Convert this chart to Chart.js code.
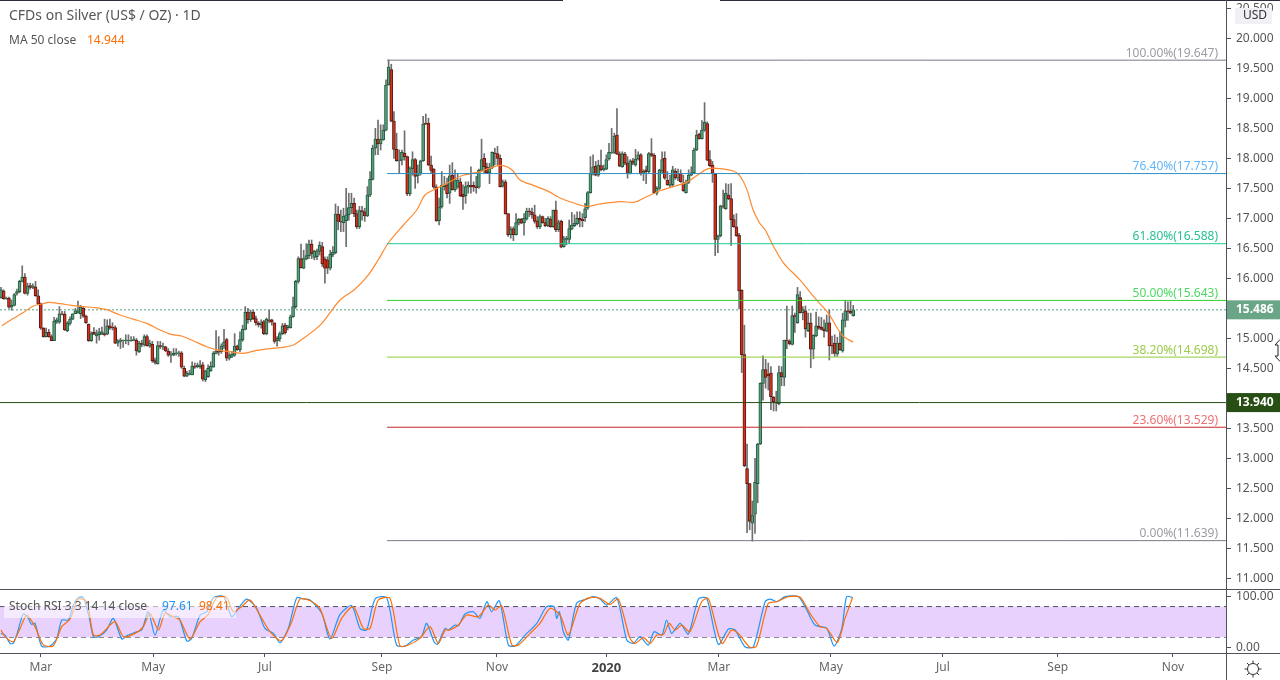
<!DOCTYPE html>
<html><head><meta charset="utf-8">
<script src="https://cdn.jsdelivr.net/npm/chart.js@4/dist/chart.umd.js"></script>
<style>
html,body{margin:0;padding:0;background:#fff;width:1280px;height:680px;overflow:hidden}
canvas{position:absolute;left:0;display:block}
.r{position:absolute;background:#50535e}
svg{position:absolute}
</style></head><body>
<canvas id="main" width="1280" height="589" style="top:0"></canvas>
<canvas id="osc" width="1280" height="90" style="top:590px"></canvas>
<div class="r" style="left:0;top:0;width:563px;height:1px;background:#2a2e39"></div>
<div class="r" style="left:720px;top:0;width:560px;height:1px;background:#2a2e39"></div>
<div class="r" style="left:0;top:589px;width:1280px;height:1px"></div>
<div class="r" style="left:0;top:653px;width:1280px;height:1px"></div>
<div class="r" style="left:1226px;top:0;width:1px;height:680px"></div>
<svg style="left:1243px;top:659px" width="20" height="20" viewBox="0 0 20 20" fill="none" stroke="#333" stroke-width="1">
<circle cx="10" cy="10" r="5.5"/><path d="M10 1.5v3M10 15.5v3M1.5 10h3M15.5 10h3M4 4l2 2M14 14l2 2M16 4l-2 2M6 14l-2 2"/></svg>
<svg style="left:1274px;top:339px" width="6" height="23" viewBox="0 0 6 23"><path d="M6 .5L1 6h3v11H1l5 5.5" fill="#fff" stroke="#222" stroke-width="1"/></svg>
<script>
const opens=[
15.69,15.80,15.67,15.68,15.53,15.56,15.76,15.79,15.96,16.03,
15.76,15.89,15.86,15.87,15.72,15.59,15.18,15.04,15.11,15.04,
14.97,15.28,15.28,15.42,15.41,15.14,15.26,15.33,15.42,15.43,
15.42,15.51,15.38,15.25,14.97,15.11,15.05,15.07,15.08,15.09,
15.08,15.22,15.20,15.19,14.93,14.96,14.97,14.97,14.97,14.97,
14.97,14.98,14.79,14.93,14.90,15.04,14.88,14.91,14.64,14.59,
14.89,14.87,14.87,14.80,14.73,14.73,14.75,14.75,14.77,14.51,14.38,
14.41,14.40,14.55,14.54,14.54,14.57,14.32,14.37,14.47,14.53,14.76,
14.80,14.79,14.88,14.99,14.68,14.71,14.73,14.88,14.82,14.99,
15.16,15.45,15.32,15.45,15.34,15.26,15.24,15.29,15.09,15.32,
15.32,15.27,14.97,15.00,15.09,15.23,15.19,15.19,15.37,15.54,
15.96,16.34,16.18,16.33,16.39,16.58,16.36,16.37,16.46,16.54,
16.33,16.32,16.18,16.40,16.44,17.08,16.96,16.94,16.97,17.07,
17.19,17.26,17.09,16.87,17.14,17.12,17.05,17.40,17.66,18.18,
18.33,18.25,18.32,18.48,19.24,19.49,18.63,18.16,17.97,17.98,
18.10,18.04,17.42,17.84,17.99,17.72,17.76,17.97,18.60,18.60,
17.90,17.83,17.53,16.97,17.20,17.54,17.57,17.43,17.73,17.49,
17.53,17.62,17.41,17.39,17.53,17.56,17.56,17.54,17.53,17.81,
18.01,17.87,17.77,17.86,18.10,18.09,18.01,17.55,17.62,17.09,
16.74,16.84,16.74,16.93,17.00,16.94,17.00,17.13,17.11,17.07,
16.97,16.87,17.04,16.94,16.89,17.00,16.87,17.15,16.82,16.96,
16.54,16.66,16.66,16.83,16.89,16.92,17.01,17.00,17.02,17.18,
17.44,17.76,17.88,17.73,17.89,17.82,17.83,18.00,18.10,18.11,
18.40,18.08,17.87,18.08,17.93,17.76,17.97,17.90,18.00,18.07,
17.76,17.82,17.79,18.09,18.06,17.43,17.51,17.80,18.01,17.65,
17.56,17.57,17.80,17.68,17.76,17.60,17.44,17.61,17.73,17.77,
18.15,18.41,18.34,18.48,18.59,17.99,17.90,17.75,16.66,16.72,
17.22,17.17,17.40,17.34,16.99,16.87,16.73,15.81,14.74,12.84,
12.59,11.93,12.08,12.59,13.25,14.26,14.49,14.41,14.43,14.03,
13.95,13.92,14.44,14.36,14.98,14.96,14.91,15.39,15.27,15.69,
15.44,15.47,15.14,15.27,14.83,15.05,15.21,15.20,15.17,15.13,
15.27,14.90,14.93,14.75,14.93,14.80,15.31,15.47,15.46,15.39];
const closes=[
15.82,15.67,15.68,15.53,15.56,15.74,15.79,15.96,16.03,15.76,
15.88,15.86,15.88,15.72,15.58,15.18,15.04,15.11,15.04,14.97,
15.30,15.32,15.42,15.41,15.15,15.26,15.33,15.42,15.47,15.47,
15.53,15.38,15.27,14.97,15.09,15.08,15.09,15.12,15.12,15.07,
15.22,15.18,15.19,14.93,14.97,14.98,14.98,14.98,14.98,14.98,
14.99,14.80,14.93,14.91,15.04,14.89,14.93,14.64,14.61,14.89,
14.87,14.88,14.80,14.73,14.74,14.76,14.77,14.77,14.53,14.38,14.43,
14.43,14.55,14.53,14.56,14.57,14.33,14.47,14.51,14.55,14.76,14.80,
14.78,14.88,14.95,14.68,14.73,14.75,14.88,14.82,14.99,15.16,
15.45,15.32,15.44,15.34,15.27,15.24,15.27,15.09,15.33,15.30,
15.28,14.96,15.01,15.09,15.22,15.10,15.22,15.37,15.54,15.96,
16.34,16.19,16.34,16.39,16.58,16.42,16.46,16.47,16.56,16.25,
16.18,16.18,16.41,16.45,17.08,16.96,16.95,17.05,17.07,17.19,
17.26,17.09,16.87,17.14,17.12,17.05,17.40,17.66,18.18,18.33,
18.25,18.33,18.48,19.23,19.53,18.63,18.16,17.97,17.98,18.11,
18.04,17.42,17.84,17.99,17.71,17.76,17.97,18.58,18.59,17.90,
17.81,17.53,16.97,17.20,17.56,17.57,17.42,17.72,17.49,17.65,
17.65,17.39,17.37,17.54,17.56,17.54,17.53,17.52,17.81,17.99,
17.87,17.77,17.86,18.11,18.09,18.01,17.54,17.62,17.09,16.74,
16.83,16.74,16.94,17.00,16.93,17.01,17.13,17.12,17.07,16.96,
16.87,17.04,16.94,16.89,17.01,16.87,17.15,16.82,16.94,16.53,
16.67,16.68,16.84,16.90,16.93,17.01,16.98,16.97,17.17,17.44,
17.76,17.87,17.73,17.90,17.82,17.85,17.99,18.11,18.11,18.38,
18.08,17.88,18.09,17.93,17.76,17.97,17.93,18.00,18.07,17.75,
17.80,17.79,18.09,18.06,17.44,17.51,17.82,17.99,17.68,17.57,
17.58,17.82,17.69,17.70,17.62,17.47,17.61,17.73,17.77,18.15,
18.40,18.34,18.48,18.61,17.98,17.89,17.76,16.66,16.71,17.22,
17.21,17.43,17.34,16.99,16.87,16.72,15.80,14.74,12.89,12.59,
11.96,12.07,12.61,13.25,14.26,14.49,14.36,14.39,14.04,13.95,
13.93,14.44,14.37,14.98,14.97,14.92,15.39,15.37,15.74,15.44,
15.49,15.17,15.26,14.83,15.06,15.22,15.18,15.16,15.14,15.27,
14.89,14.88,14.76,14.93,14.82,15.32,15.47,15.45,15.43,15.486];
const highs=[
15.86,15.82,15.70,15.70,15.65,15.76,15.83,15.98,16.22,16.09,
15.93,15.93,15.92,15.96,15.82,15.60,15.19,15.18,15.16,15.07,
15.36,15.35,15.54,15.46,15.46,15.29,15.37,15.42,15.51,15.63,
15.56,15.54,15.40,15.25,15.12,15.19,15.15,15.18,15.20,15.33,
15.32,15.33,15.27,15.22,14.99,15.01,14.98,15.07,15.07,15.04,
15.04,15.01,14.96,14.98,15.07,15.07,14.98,14.96,14.68,14.96,
14.96,14.93,14.88,14.84,14.79,14.84,14.84,14.80,14.79,14.55,14.46,
14.48,14.62,14.60,14.60,14.64,14.61,14.48,14.57,14.62,14.79,15.14,
15.04,14.92,15.16,15.01,14.77,14.79,15.09,14.90,15.12,15.23,
15.54,15.51,15.48,15.48,15.38,15.29,15.32,15.31,15.35,15.48,
15.33,15.27,15.04,15.12,15.26,15.26,15.23,15.40,15.70,15.98,
16.37,16.58,16.48,16.59,16.65,16.65,16.48,16.50,16.62,16.61,
16.37,16.37,16.48,16.54,17.25,17.21,17.15,17.18,17.51,17.43,
17.43,17.35,17.15,17.21,17.21,17.18,17.54,17.79,18.23,18.51,
18.65,18.57,18.57,19.32,19.65,19.58,18.79,18.43,18.15,18.15,
18.47,18.05,17.87,18.12,18.01,17.90,17.98,18.71,18.75,18.68,
18.05,17.84,17.57,17.35,17.79,17.71,17.68,17.90,17.94,17.82,
17.75,17.68,17.57,17.62,17.62,17.87,17.62,17.71,17.83,18.33,
18.09,17.93,17.93,18.12,18.18,18.21,18.07,17.65,17.65,17.09,
16.87,16.87,17.09,17.01,17.01,17.09,17.18,17.18,17.18,17.23,
17.04,17.07,17.05,17.01,17.04,17.04,17.15,17.30,16.98,16.98,
16.71,16.71,16.98,17.11,17.07,17.12,17.12,17.09,17.26,17.46,
18.04,18.07,17.96,17.98,18.15,17.90,18.07,18.26,18.51,18.43,
18.84,18.12,18.12,18.11,18.04,17.99,18.01,18.16,18.12,18.09,
17.82,17.88,18.11,18.34,18.09,17.54,17.83,18.12,18.12,17.79,
17.73,17.88,17.84,17.83,17.82,17.73,17.65,17.82,17.87,18.18,
18.48,18.43,18.64,18.94,18.62,18.14,17.96,17.76,16.73,17.23,
17.48,17.59,17.58,17.59,17.07,17.09,16.76,15.82,15.23,13.25,
12.59,12.30,13.01,13.26,14.27,14.72,14.66,14.60,14.54,14.04,
14.13,14.55,14.54,14.98,15.55,14.99,15.55,15.43,15.86,15.79,
15.54,15.55,15.43,15.43,15.07,15.45,15.37,15.36,15.32,15.40,
15.48,15.05,15.07,15.03,15.12,15.43,15.64,15.62,15.64,15.56];
const lows=[
15.68,15.66,15.66,15.51,15.48,15.55,15.73,15.77,15.95,15.75,
15.73,15.83,15.84,15.71,15.57,15.16,15.03,15.03,15.03,14.97,
14.97,15.26,15.26,15.40,15.14,15.12,15.23,15.32,15.42,15.43,
15.34,15.36,15.26,14.96,14.96,15.07,14.93,14.98,15.07,15.05,
15.07,15.16,15.15,14.92,14.88,14.84,14.86,14.92,14.90,14.96,
14.97,14.73,14.77,14.87,14.88,14.88,14.86,14.61,14.58,14.58,
14.84,14.82,14.79,14.71,14.61,14.72,14.73,14.71,14.51,14.37,14.37,
14.40,14.40,14.51,14.52,14.51,14.30,14.29,14.36,14.46,14.53,14.75,
14.73,14.76,14.84,14.64,14.65,14.69,14.71,14.81,14.79,14.96,
15.15,15.26,15.29,15.32,15.23,15.20,15.18,15.07,15.07,15.27,
15.23,14.93,14.88,14.96,15.07,15.08,15.15,15.18,15.36,15.51,
15.93,16.18,16.17,16.32,16.34,16.34,16.32,16.32,16.40,16.21,
15.93,16.09,16.15,16.37,16.42,16.82,16.79,16.79,16.54,16.98,
17.09,17.04,16.84,16.84,16.98,16.96,17.04,17.37,17.65,18.07,
18.07,18.15,18.31,18.47,19.23,18.62,18.01,17.96,17.76,17.90,
17.98,17.39,17.39,17.73,17.51,17.60,17.73,17.96,18.57,17.89,
17.76,17.51,16.96,16.90,17.18,17.48,17.35,17.26,17.48,17.46,
17.51,17.37,17.16,17.26,17.43,17.43,17.46,17.43,17.51,17.79,
17.77,17.76,17.59,17.84,17.90,17.90,17.53,17.53,17.08,16.71,
16.68,16.64,16.73,16.90,16.92,16.73,16.98,17.04,17.01,16.93,
16.84,16.84,16.93,16.87,16.87,16.86,16.86,16.79,16.79,16.52,
16.53,16.57,16.59,16.82,16.87,16.90,16.87,16.87,16.96,17.16,
17.43,17.73,17.72,17.71,17.80,17.80,17.82,17.98,18.09,18.09,
18.07,17.87,17.86,17.90,17.68,17.75,17.90,17.88,17.98,17.73,
17.64,17.59,17.76,18.04,17.43,17.40,17.49,17.76,17.66,17.56,
17.54,17.54,17.66,17.64,17.61,17.46,17.43,17.59,17.72,17.76,
18.14,18.33,18.33,18.46,17.97,17.87,17.61,16.39,16.44,16.70,
17.18,17.16,17.32,16.56,16.86,16.71,15.50,14.44,12.87,11.77,
11.82,11.63,11.76,12.27,13.24,13.98,14.18,14.15,13.82,13.80,
13.80,13.90,14.22,14.22,14.84,14.90,14.90,15.11,15.26,15.43,
15.32,15.03,15.12,14.52,14.67,15.04,15.16,15.15,15.03,15.12,
14.65,14.75,14.71,14.71,14.81,14.78,15.20,15.31,15.42,15.38];
const maIdx=[0.3,4.6,8.4,12.2,16,17.8,22.2,26.6,31,36,39.8,44.8,49.8,54.9,59.9,63.7,68,72.4,77.5,81.2,86.2,91.3,96.3,101.3,106.3,110.1,112.6,120.2,127.7,133.3,138.4,142.1,145.9,151.6,156.6,159.7,164.1,169.1,173.5,180.4,185.4,189.2,192.4,195.5,200.5,206.2,210.6,215.5,220.5,225.6,233.1,238.7,243.1,248.2,253.2,258.2,263.2,266.4,270.8,275.8,278.3,280.8,283.3,285.8,287.8,290.9,294.7,301,306.6,311.6,316.7,321];
const maVal=[15.22,15.34,15.44,15.55,15.59,15.61,15.59,15.56,15.54,15.52,15.49,15.40,15.33,15.26,15.15,15.08,15.05,14.97,14.87,14.82,14.79,14.76,14.81,14.84,14.86,14.90,14.97,15.23,15.65,15.83,16.07,16.32,16.60,16.90,17.15,17.40,17.51,17.62,17.72,17.79,17.87,17.89,17.82,17.65,17.56,17.46,17.35,17.27,17.21,17.25,17.29,17.28,17.37,17.47,17.54,17.61,17.76,17.84,17.84,17.80,17.72,17.51,17.15,16.93,16.82,16.55,16.27,15.98,15.68,15.43,15.07,14.944];
const kIdx=[0,1.5,3.4,4.6,5.9,8.4,10.3,11.5,12.8,15.3,18.5,21,22.9,25.4,27.2,29.1,31,33.3,34.8,36.7,39.8,42.3,45.5,47.3,50.5,53,55.5,58,61.1,63.7,66.8,70,71.8,75,77.5,80,83.8,86.9,89.4,92.5,96.3,99.4,102.6,105.1,108.2,111.4,113.9,116.4,120.8,123.9,127.7,132.1,135.2,137.7,140.9,145.3,149,152.2,155.3,158.4,160.3,163.1,164.4,166,167.3,168.5,171,172.3,174.8,177.9,180.4,183,184.8,187.7,191.1,193.6,197.4,201.8,205.5,208.3,209.3,210.3,211.8,213.7,216.8,220.6,223.1,225.6,228.1,231.9,235.7,238.2,240.7,243.8,246,248.9,250.7,252.6,255.8,258.9,262.7,265.8,270.2,274,276.5,280.2,283.4,287.8,289.7,292.2,295.3,300.3,303.5,306.6,311,313.8,316.7,318.5,320.8];
const kVal=[27.8,24.5,8.3,8.3,24.5,65.5,57,45.3,47.3,3,3,18,53.8,53.8,83,97.3,97.3,57,21.3,21.3,34.3,57,16.7,23.2,29.7,34.3,70,24.5,73.3,60.3,60.3,12.8,18,63.5,70,97.3,99.3,60.3,76.5,94.7,76.5,37.5,27.8,9.6,37.5,97.3,94.7,92.8,66.8,16.7,64.8,81.7,37.5,34.3,94.7,97.3,5,3,14.8,21.3,47.3,11.5,6.3,24.5,37.5,34.3,44,42.7,65.5,70,57,89.5,70,91.5,5,3,24.5,47.3,79.8,79.8,57,70,31,14.8,86.3,94.7,99.3,94.7,83,97.3,14.8,8.3,21.3,5,31,24.5,53.8,27.8,47.3,26.5,94.7,96,6.3,36.2,34.3,1.8,1.8,89.5,94.7,89.5,99.3,99.3,73.3,44,37.5,3,37.5,99.3,97.61];
const dIdx=[0,1.5,4.6,7.2,9.7,12.8,16,19.7,22.9,26,29.1,32.3,34.8,37.3,42.9,46.1,50.5,53.6,56.1,59.3,61.8,64.9,67.4,71.2,75,78.1,81.2,85,87.5,90.6,93.8,97.5,101.3,105.7,109.5,112.6,116.4,120.1,124.5,128.3,132.7,136.5,139,142.1,146.5,150.3,153.4,157.8,161.6,164.7,167.3,169.1,172.3,175.4,179.8,183.6,186.1,188.6,192.4,194.9,199.3,203,206.8,210.6,213.7,218.1,221.9,225.6,229.4,232.5,236.9,238.8,242,244.5,247,249.5,251.7,253.9,256.4,259.5,263.9,266.4,271.5,275.2,277.7,282.1,284.6,289,292.2,296.6,301,304.7,308.5,311,315,317.9,320.8];
const dVal=[34.3,21.3,11.5,37.5,63.5,40.8,5,3.7,40.8,55.7,94.7,89.5,24.5,24.5,50.5,21.3,27.8,40.8,66.8,34.3,66.8,60.3,53.8,16.7,50.5,64.8,97.3,97.3,70,79.8,92.8,63.5,31,13.5,50.5,94.7,91.5,76.5,18,57,79.8,37.5,37.5,92.8,96,3,5,18,40.8,8.3,34.3,34.3,44,63.5,60.3,83,73.3,81.7,5,5,27.8,47.3,76.5,63.5,24.5,86.3,97.3,96,84.3,94.7,18,8.3,19.3,8.3,24.5,25.8,47.3,34.3,44,31,89.5,96,8.3,34.3,27.8,0.5,3,86.3,89.5,99.3,98,66.8,40.8,37.5,10.2,57,98.41];
const fibValues=[19.647,17.757,16.588,15.643,14.698,13.529,11.639];
const fibNames=["100.00%(19.647)","76.40%(17.757)","61.80%(16.588)","50.00%(15.643)","38.20%(14.698)","23.60%(13.529)","0.00%(11.639)"];
const fibLine=["#787b86","#2d8fc0","#1fcb92","#2fd02a","#8fc93a","#c62828","#787b86"];
const fibText=["#9a9ca3","#64b5f6","#26bf94","#4cd964","#9ccc4a","#ef7070","#9a9ca3"];
const fibStart=145.4;
const priceTicks=[11,11.5,12,12.5,13,13.5,14,14.5,15,15.5,16,16.5,17,17.5,18,18.5,19,19.5,20,20.5];
const lastPrice=15.486, levelPrice=13.94;
const timeIdx=[15,57.3,99.4,143.5,186.8,228,270.4,312.6,354.8,398,441.4];
const timeLabels=["Mar","May","Jul","Sep","Nov","2020","Mar","May","Jul","Sep","Nov"];
const xMin=-0.377,xMax=461.4;
const FONT='"Noto Sans",sans-serif';
Chart.defaults.font.family=FONT;Chart.defaults.animation=false;

const xs=opens.map((_,i)=>i);
const up=xs.map(i=>closes[i]>=opens[i]);
const zip=(a,b)=>a.map((v,i)=>({x:v,y:b[i]}));
const hline=(v,from)=>[{x:from,y:v},{x:xMax,y:v}];
const noPad=s=>{s.paddingTop=0;s.paddingBottom=0;};

new Chart(document.getElementById('main'),{
 type:'bar',
 data:{datasets:[
  ...fibValues.map((v,i)=>({type:'line',label:fibNames[i],data:hline(v,fibStart),borderColor:fibLine[i],borderWidth:1,pointRadius:0,order:0})),
  {type:'line',label:'level',data:hline(levelPrice,xMin),borderColor:'#274e13',borderWidth:1,pointRadius:0,order:0},
  {type:'line',label:'MA 50',data:zip(maIdx,maVal),borderColor:'#ff8a30',borderWidth:1.2,pointRadius:0,tension:0.3,order:1},
  {type:'line',label:'last',data:hline(lastPrice,xMin),borderColor:'#53a27e',borderWidth:1,borderDash:[2,2],pointRadius:0,order:4},
  {type:'bar',label:'body',data:xs.map(i=>({x:i,y:[opens[i],closes[i]]})),barThickness:3,grouped:false,borderWidth:1,borderSkipped:false,
    backgroundColor:up.map(u=>u?'#5a9e7e':'#d2311e'),borderColor:up.map(u=>u?'#1f5c3e':'#5e1a12'),order:2},
  {type:'bar',label:'wick',data:xs.map(i=>({x:i,y:[lows[i],highs[i]]})),barThickness:1,grouped:false,borderWidth:0,backgroundColor:'#6e6e6e',order:3}
 ]},
 options:{responsive:false,devicePixelRatio:1,animation:false,layout:{padding:0},
  plugins:{legend:{display:false},tooltip:{enabled:false}},
  scales:{
   x:{type:'linear',min:xMin,max:xMax,display:false,offset:false},
   y:{position:'right',min:10.833,max:20.65,
     afterBuildTicks:s=>{s.ticks=priceTicks.map(v=>({value:v}));},
     afterFit:s=>{s.width=54;noPad(s);},
     border:{display:false},
     grid:{drawOnChartArea:false,color:'#50535e',tickLength:5},
     ticks:{color:'#555',padding:5,font:{size:12},callback:v=>Number(v).toFixed(3)}}
  }},
 plugins:[{id:'labels',afterDraw(c){
   const g=c.ctx,y=c.scales.y;g.save();
   g.textBaseline='middle';g.textAlign='right';g.font='12px '+FONT;
   fibValues.forEach((v,i)=>{g.fillStyle=fibText[i];g.fillText(fibNames[i],1218,y.getPixelForValue(v)-7);});
   g.textAlign='left';
   [[lastPrice,'#6ba588','15.486'],[levelPrice,'#274e13','13.940']].forEach(([v,col,t])=>{
     const p=y.getPixelForValue(v);g.fillStyle=col;g.fillRect(1227,p-9.5,53,19);
     g.fillStyle='#fff';g.font='bold 12px '+FONT;g.fillText(t,1236,p);});
   g.fillStyle='#f0f0f6';g.fillRect(1235,8,37,16);
   g.fillStyle='#333';g.font='12px '+FONT;g.fillText('USD',1243,16);
   g.fillStyle='#555';g.font='14px '+FONT;g.fillText('CFDs on Silver (US$ / OZ) · 1D',9,16);
   g.font='12px '+FONT;g.fillText('MA 50 close',9,41);
   g.fillStyle='#ff6d00';g.fillText('14.944',87,41);
   g.restore();}}]
});

new Chart(document.getElementById('osc'),{
 type:'line',
 data:{datasets:[
  {label:'%K',data:zip(kIdx,kVal),borderColor:'#2196f3',borderWidth:1.2,pointRadius:0,tension:0.25,order:1},
  {label:'%D',data:zip(dIdx,dVal),borderColor:'#ff6d00',borderWidth:1.2,pointRadius:0,tension:0.25,order:0},
  {label:'upper',data:hline(80,xMin),borderColor:'#50535e',borderWidth:1,borderDash:[5,4],pointRadius:0,fill:'+1',backgroundColor:'#e9d1fd',order:2},
  {label:'lower',data:hline(20,xMin),borderColor:'#50535e',borderWidth:1,borderDash:[5,4],pointRadius:0,order:3}
 ]},
 options:{responsive:false,devicePixelRatio:1,animation:false,layout:{padding:0},
  plugins:{legend:{display:false},tooltip:{enabled:false}},
  scales:{
   x:{type:'linear',min:xMin,max:xMax,offset:false,
     afterBuildTicks:s=>{s.ticks=timeIdx.map(v=>({value:v}));},
     afterFit:s=>{s.height=27;s.paddingLeft=0;s.paddingRight=0;},
     border:{display:false},
     grid:{drawOnChartArea:false,color:'#50535e',tickLength:4},
     ticks:{autoSkip:false,maxRotation:0,padding:3,
       callback:(v,i)=>timeLabels[i],
       color:c=>timeLabels[c.index]==='2020'?'#444':'#666',
       font:c=>({size:timeLabels[c.index]==='2020'?13:12,weight:timeLabels[c.index]==='2020'?'bold':'normal'})}},
   y:{position:'right',min:-10.5,max:112.3,
     afterBuildTicks:s=>{s.ticks=[{value:0},{value:100}];},
     afterFit:s=>{s.width=54;noPad(s);},
     border:{display:false},
     grid:{drawOnChartArea:false,color:'#50535e',tickLength:5},
     ticks:{color:'#555',padding:5,font:{size:12},callback:v=>Number(v).toFixed(2)}}
  }},
 plugins:[{id:'oscLegend',afterDatasetsDraw(c){
   const g=c.ctx;g.save();
   g.fillStyle='rgba(255,255,255,0.55)';g.fillRect(4,7,232,21);
   g.textBaseline='middle';g.font='12px '+FONT;g.textAlign='left';
   g.fillStyle='#555';g.fillText('Stoch RSI 3 3 14 14 close',9,17);
   g.fillStyle='#2196f3';g.fillText('97.61',162,17);
   g.fillStyle='#ff6d00';g.fillText('98.41',199,17);
   g.restore();}}]
});
</script>
</body></html>
